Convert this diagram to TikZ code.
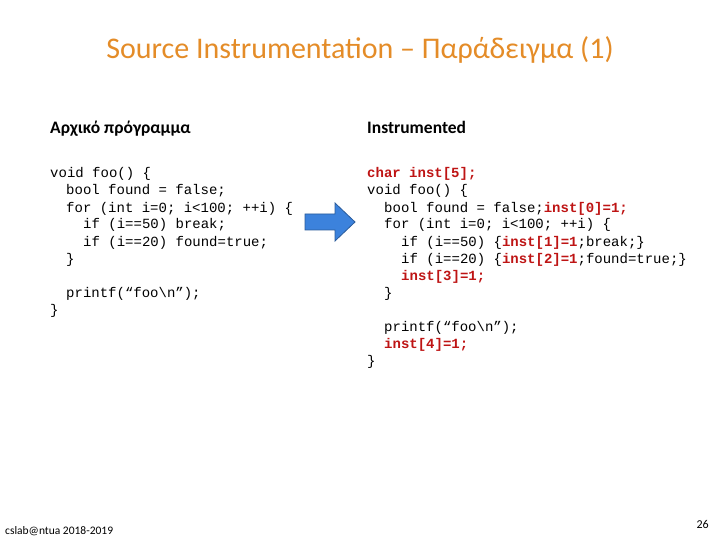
\documentclass[tikz,border=0pt]{standalone}
\usepackage{fontspec}
\setmainfont{Carlito}
\newfontfamily\codefont{Liberation Mono}
\definecolor{ttl}{RGB}{228,140,40}
\definecolor{ired}{RGB}{190,20,20}
\definecolor{arr}{RGB}{60,130,220}
\begin{document}
\begin{tikzpicture}[x=1pt,y=1pt,
 code/.style={anchor=base west,inner sep=0,font=\codefont\fontsize{14}{17}\selectfont},
 hd/.style={anchor=base west,inner sep=0,font=\fontsize{17.5}{20}\selectfont\bfseries}]
\useasboundingbox (0,0) rectangle (720,-540);
\node[font=\fontsize{30}{34}\selectfont,text=ttl] (title) at (360,-50) {Source Instrumentation – Παράδειγμα (1)};
\node[hd] (h1) at (50,-134) {Αρχικό πρόγραμμα};
\node[hd] (h2) at (367,-134) {Instrumented};
% left code
\node[code] (a1) at (50,-178) {void foo() \{};
\node[code] (a2) at (66,-195) {bool found = false;};
\node[code] (a3) at (66,-212) {for (int i=0; i<100; ++i) \{};
\node[code] (a4) at (83,-229) {if (i==50) break;};
\node[code] (a5) at (83,-246) {if (i==20) found=true;};
\node[code] (a6) at (66,-263) {\}};
\node[code] (a7) at (66,-297) {printf(“foo\textbackslash n”);};
\node[code] (a8) at (50,-314) {\}};
% right code
\newcommand\ins[1]{\textcolor{ired}{\bfseries #1}}
\node[code] (b0) at (367,-178) {\ins{char inst[5];}};
\node[code] (b1) at (367,-195) {void foo() \{};
\node[code] (b2) at (384,-212) {bool found = false;\ins{inst[0]=1;}};
\node[code] (b3) at (384,-229) {for (int i=0; i<100; ++i) \{};
\node[code] (b4) at (401,-246) {if (i==50) \{\ins{inst[1]=1};break;\}};
\node[code] (b5) at (401,-263) {if (i==20) \{\ins{inst[2]=1};found=true;\}};
\node[code] (b6) at (401,-280) {\ins{inst[3]=1;}};
\node[code] (b7) at (384,-297) {\}};
\node[code] (b8) at (384,-331) {printf(“foo\textbackslash n”);};
\node[code] (b9) at (384,-348) {\ins{inst[4]=1;}};
\node[code] (b10) at (367,-365) {\}};
% arrow
\coordinate (ar) at (305,-222);
\filldraw[fill=arr,draw=arr!70!black,line width=0.8pt]
 (ar) ++(0,8) -- ++(30,0) -- ++(0,11) -- ++(20,-19) -- ++(-20,-19) -- ++(0,11) -- ++(-30,0) -- cycle;
\node[anchor=base west,inner sep=0,font=\fontsize{11.5}{13}\selectfont] (ft) at (5,-534) {cslab@ntua 2018-2019};
\node[anchor=base east,inner sep=0,font=\fontsize{12}{14}\selectfont] (pg) at (709,-528) {26};
\end{tikzpicture}
\end{document}
